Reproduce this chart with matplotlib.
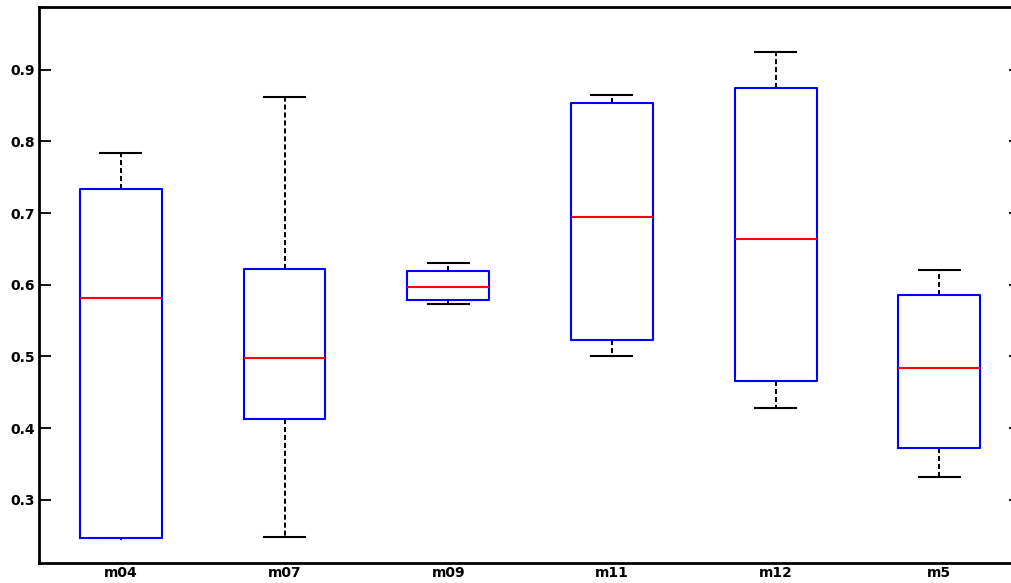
import matplotlib
matplotlib.use("Agg")
import matplotlib.pyplot as plt

labels = ["m04", "m07", "m09", "m11", "m12", "m5"]
whislo = [0.244, 0.248, 0.573, 0.500, 0.428, 0.331]
q1     = [0.246, 0.412, 0.579, 0.523, 0.466, 0.372]
med    = [0.581, 0.498, 0.596, 0.694, 0.664, 0.484]
q3     = [0.733, 0.621, 0.619, 0.853, 0.874, 0.586]
whishi = [0.783, 0.861, 0.630, 0.865, 0.924, 0.620]
yticks = [0.3, 0.4, 0.5, 0.6, 0.7, 0.8, 0.9]

stats = []
for i, lab in enumerate(labels):
    stats.append(dict(label=lab, whislo=whislo[i], q1=q1[i], med=med[i],
                      q3=q3[i], whishi=whishi[i], fliers=[]))

fig = plt.figure(figsize=(10.112, 5.832), dpi=100)
ax = fig.add_axes([39/1011, 1-563/583, (1021-39)/1011, (563-7)/583])

res = ax.bxp(stats, positions=range(1, 7), widths=0.5, showfliers=False,
             boxprops=dict(color="#0000ff", linewidth=1.5, zorder=3),
             medianprops=dict(color="#ff0000", linewidth=1.5, zorder=4),
             whiskerprops=dict(color="black", linewidth=1.4, linestyle=(0, (2.6, 1.5)), zorder=2),
             capprops=dict(color="black", linewidth=1.5, zorder=2),
             capwidths=0.25)
# lower cap of the first box is hidden behind the box edge in the reference
res["caps"][0].set_visible(False)

ax.set_xlim(0.5, 6.5)
ax.set_ylim(0.2115, 0.9875)
ax.set_yticks(yticks)
ax.set_yticklabels([f"{v:.1f}" for v in yticks])
ax.set_xticks(range(1, 7))
ax.set_xticklabels(labels)

ax.tick_params(axis="y", direction="in", length=8.6, width=1.3, right=True,
               labelsize=10, pad=3)
ax.tick_params(axis="x", length=0, labelsize=10, pad=2)
for lab in ax.get_xticklabels() + ax.get_yticklabels():
    lab.set_fontweight("bold")

for s in ax.spines.values():
    s.set_linewidth(2)

fig.savefig("out.png", dpi=100)
